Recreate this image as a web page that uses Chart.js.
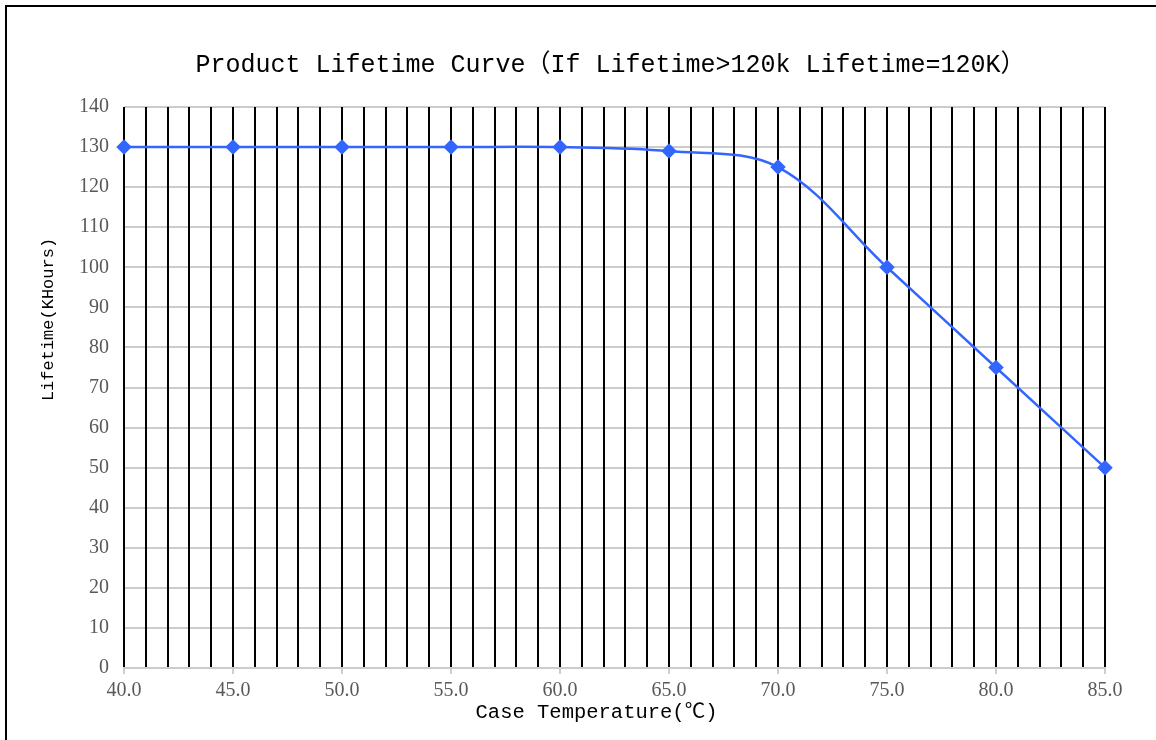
<!DOCTYPE html>
<html>
<head>
<meta charset="utf-8">
<script src="https://cdn.jsdelivr.net/npm/chart.js@4/dist/chart.umd.min.js"></script>
<style>
  html, body { margin: 0; padding: 0; background: #ffffff; }
  #wrap { position: relative; width: 1156px; height: 740px; overflow: hidden; }
  #frame { position: absolute; left: 5px; top: 5px; width: 1200px; height: 800px;
           border-left: 2px solid #000; border-top: 2px solid #000; pointer-events: none; }
  canvas { position: absolute; left: 0; top: 0; }
</style>
</head>
<body>
<div id="wrap">
  <canvas id="c" width="1156" height="740"></canvas>
  <div id="frame"></div>
</div>
<script>
// ---- data ----
const temperatures = [40, 45, 50, 55, 60, 65, 70, 75, 80, 85];
const lifetimes = [130, 130, 130, 130, 130, 129, 125, 100, 75, 50];
const xMin = 40, xMax = 85, xGridStep = 1, xLabelStep = 5;
const yMin = 0, yMax = 140, yStep = 10;
const titleText = 'Product Lifetime Curve（If Lifetime>120k Lifetime=120K）';
const xTitleText = 'Case Temperature(℃)';
const yTitleText = 'Lifetime(KHours)';

const textPlugin = {
  id: 'chartTexts',
  afterDraw(chart) {
    const { ctx, chartArea } = chart;
    const cx = (chartArea.left + chartArea.right) / 2;
    const cy = (chartArea.top + chartArea.bottom) / 2;
    ctx.save();
    ctx.fillStyle = '#000000';
    ctx.textAlign = 'center';
    ctx.textBaseline = 'middle';
    ctx.font = '25px "Liberation Mono", "Noto Sans CJK SC", monospace';
    ctx.fillText(titleText, cx - 4, chartArea.top - 42);
    ctx.font = '20.5px "Liberation Mono", "Noto Sans CJK SC", monospace';
    ctx.fillText(xTitleText, cx - 18, chartArea.bottom + 45);
    ctx.translate(chartArea.left - 76, cy - 68);
    ctx.rotate(-Math.PI / 2);
    ctx.font = '17px "Liberation Mono", "Noto Sans CJK SC", monospace';
    ctx.fillText(yTitleText, 0, 0);
    ctx.restore();
  }
};

new Chart(document.getElementById('c'), {
  type: 'line',
  data: {
    datasets: [{
      label: 'Lifetime',
      data: temperatures.map((t, i) => ({ x: t, y: lifetimes[i] })),
      borderColor: '#3366ff',
      backgroundColor: '#3366ff',
      borderWidth: 2.5,
      pointStyle: 'rectRot',
      pointRadius: 6,
      pointHoverRadius: 6,
      tension: 0.35,
      fill: false,
      clip: false
    }]
  },
  options: {
    responsive: false,
    animation: false,
    layout: { padding: { left: 0, right: 51, top: 107, bottom: 0 } },
    plugins: {
      legend: { display: false },
      title: { display: false },
      tooltip: { enabled: false }
    },
    scales: {
      y: {
        type: 'linear',
        min: yMin, max: yMax,
        ticks: {
          stepSize: yStep,
          padding: 15,
          color: '#595959',
          font: { family: '"Liberation Serif", serif', size: 20 }
        },
        grid: { color: '#cccccc', lineWidth: 2, drawTicks: false },
        border: { display: false },
        afterFit(scale) { scale.width = 124; }
      },
      x: {
        type: 'linear',
        min: xMin, max: xMax,
        ticks: {
          stepSize: xGridStep,
          autoSkip: false,
          maxRotation: 0,
          padding: 5,
          color: '#595959',
          font: { family: '"Liberation Serif", serif', size: 20 },
          callback: (v) => (v % xLabelStep === 0 ? v.toFixed(1) : '')
        },
        grid: {
          color: '#000000',
          lineWidth: 2,
          drawTicks: true,
          tickLength: 6,
          tickColor: (ctx) => (ctx.tick && ctx.tick.value % xLabelStep === 0 ? '#bfbfbf' : 'rgba(0,0,0,0)'),
          tickWidth: 1.5
        },
        border: { display: true, color: '#cccccc', width: 2 },
        afterFit(scale) { scale.height = 72; }
      }
    }
  },
  plugins: [textPlugin]
});
</script>
</body>
</html>
